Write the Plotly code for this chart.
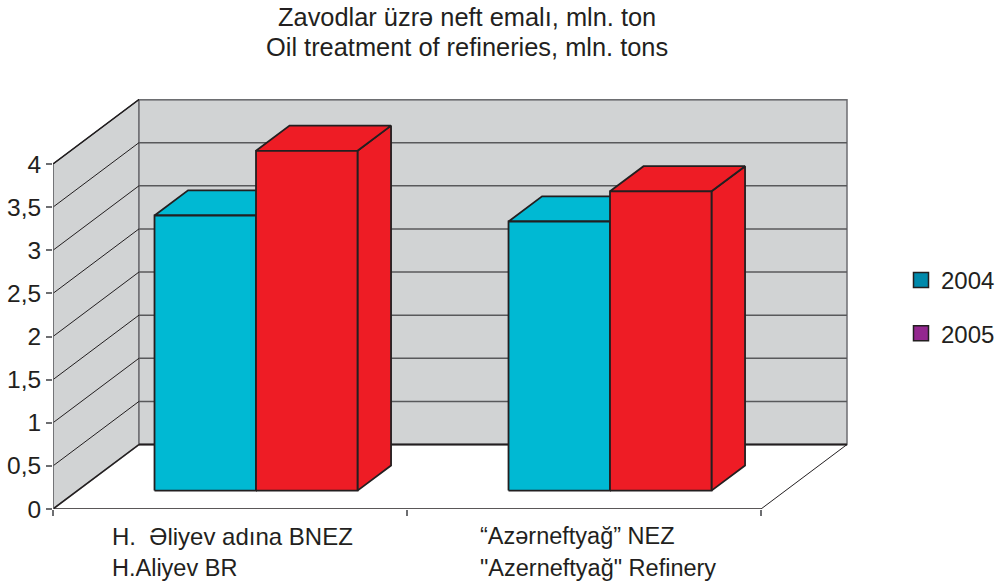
import plotly.graph_objects as go

# --- data ---
title_lines = ["Zavodlar üzrə neft emalı, mln. ton", "Oil treatment of refineries, mln. tons"]
categories_az = ["H.\u00a0\u00a0Əliyev adına BNEZ", "“Azərneftyağ” NEZ"]
categories_en = ["H.Aliyev BR", "\"Azerneftyağ\" Refinery"]
series_names = ["2004", "2005"]
values_2004 = [3.19, 3.12]
values_2005 = [3.94, 3.47]
y_ticks = [0, 0.5, 1, 1.5, 2, 2.5, 3, 3.5, 4]
y_tick_labels = ["0", "0,5", "1", "1,5", "2", "2,5", "3", "3,5", "4"]

# --- styling / projection ---
CYAN, RED, WALL = "#00B9D3", "#EE1C25", "#D1D3D4"
INK, EDGE = "#231F20", "#6D6E71"
FONT = "Liberation Sans"
W, H = 999, 585
L, R, T, B = 53, 999, 99, 509       # plot area in window pixels
PX_X, PX_Y = 354.0, 86.25           # pixels per category, per value unit
DX, DY = 86.0, 64.5                 # oblique shift of the full chart depth
BAR_W = 101.5 / PX_X
GAP = (1 - 2 * BAR_W) / 2 + 1.5 / PX_X
D0, D1 = 0.285, 0.675               # bar depth span


def pr(x, v, d=0.0):
    return x + d * DX / PX_X, v + d * DY / PX_Y


def poly(points, fill=None, color=INK, width=1.8):
    xs, ys = zip(*[pr(*p) for p in points])
    return go.Scatter(
        x=list(xs), y=list(ys), mode="lines", line=dict(color=color, width=width),
        fill="toself" if fill else "none", fillcolor=fill, showlegend=False, hoverinfo="skip",
    )


fig = go.Figure()
n = len(categories_az)
top = y_ticks[-1]

# walls
fig.add_trace(poly([(0, 0, 0), (0, top, 0), (0, top, 1), (0, 0, 1), (0, 0, 0)], WALL, EDGE, 1.5))
fig.add_trace(poly([(0, 0, 1), (0, top, 1), (n, top, 1), (n, 0, 1), (0, 0, 1)], WALL, EDGE, 1.5))
# gridlines on both walls
for v in y_ticks[1:]:
    fig.add_trace(poly([(0, v, 0), (0, v, 1)], None, INK, 1))
    fig.add_trace(poly([(0, v, 1), (n, v, 1)], None, "#58595B", 1.5))
# top edge of left wall and floor edges
fig.add_trace(poly([(0, top, 0), (0, top, 1)], None, INK, 1.2))
fig.add_trace(poly([(0, top, 1), (n, top, 1)], None, EDGE, 1.5))
fig.add_trace(poly([(0, 0, 0), (0, 0, 1)], None, INK, 1.5))
fig.add_trace(poly([(0, 0, 1), (n, 0, 1)], None, INK, 2))
fig.add_trace(poly([(n, 0, 1), (n, 0, 0)], None, INK, 1))
fig.add_trace(poly([(0, 0, 0), (n, 0, 0)], None, INK, 1.5))
fig.add_trace(poly([(0, 0, 0), (0, top, 0)], None, EDGE, 1.5))


def bar(x0, v, color):
    x1 = x0 + BAR_W
    fig.add_trace(poly([(x1, 0, D0), (x1, 0, D1), (x1, v, D1), (x1, v, D0), (x1, 0, D0)], color))
    fig.add_trace(poly([(x0, v, D0), (x0, v, D1), (x1, v, D1), (x1, v, D0), (x0, v, D0)], color))
    fig.add_trace(poly([(x0, 0, D0), (x1, 0, D0), (x1, v, D0), (x0, v, D0), (x0, 0, D0)], color))


for i in range(n):
    bar(i + GAP, values_2004[i], CYAN)
    bar(i + GAP + BAR_W, values_2005[i], RED)

# legend entries
for name, col in zip(series_names, ["#0089AB", "#93278F"]):
    fig.add_trace(go.Scatter(
        x=[None], y=[None], mode="markers", name=name, legendgroup=name,
        marker=dict(symbol="square", size=15, color=col, line=dict(color=INK, width=1.5)),
    ))

ann = []
for t, py in zip(title_lines, [17, 47]):
    ann.append(dict(text=t, xref="x", yref="paper", x=(467 - L) / PX_X, y=(B - py) / (B - T),
                    showarrow=False, xanchor="center", yanchor="middle",
                    font=dict(size=25.4, color=INK, family=FONT)))
for i, px in enumerate([112, 480]):
    for t, py, size in [(categories_az[i], 536, 24 if i == 0 else 23.5), (categories_en[i], 568, 23.5)]:
        ann.append(dict(text=t, xref="x", yref="paper", x=(px - L) / PX_X, y=(B - py) / (B - T),
                        showarrow=False, xanchor="left", yanchor="middle", xshift=-2,
                        font=dict(size=size, color=INK, family=FONT)))

fig.update_layout(
    width=W, height=H, autosize=False,
    margin=dict(l=L, r=W - R, t=T, b=H - B, autoexpand=False),
    paper_bgcolor="white", plot_bgcolor="white", annotations=ann,
    font=dict(family=FONT, color=INK),
    xaxis=dict(range=[0, (R - L) / PX_X], tickvals=[0, 1, 2], ticktext=["", "", ""], ticks="outside",
               ticklen=6, tickcolor=EDGE, tickwidth=1.5, showgrid=False, zeroline=False, showline=False,
               automargin=False),
    yaxis=dict(range=[0, (B - T) / PX_Y], tickvals=y_ticks, ticktext=y_tick_labels, ticks="outside",
               ticklen=6, tickcolor=EDGE, tickwidth=1.5, showgrid=False, zeroline=False, showline=False,
               automargin=False, tickfont=dict(size=24.5, color=INK, family=FONT)),
    legend=dict(x=(901 - L) / (R - L), y=(B - 258) / (B - T), xanchor="left", yanchor="top",
                font=dict(size=24, color=INK, family=FONT), tracegroupgap=19,
                bgcolor="rgba(0,0,0,0)", itemwidth=30, traceorder="grouped"),
)
fig.write_html("out.html", config={"displayModeBar": False},
               post_script="document.body.style.margin='0';document.body.style.overflow='hidden';")
